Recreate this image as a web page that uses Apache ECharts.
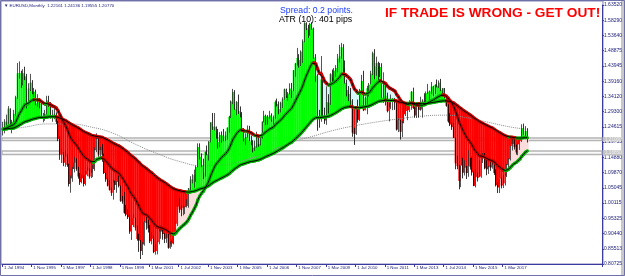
<!DOCTYPE html>
<html><head><meta charset="utf-8">
<script src="https://cdn.jsdelivr.net/npm/echarts@6/dist/echarts.min.js"></script>
<style>html,body{margin:0;padding:0;background:#fff}#c{width:625px;height:276px}</style>
</head><body><div id="c"></div>
<script>
// Monthly EURUSD bars, Jul 1994 .. Apr 2018 (one row per year)
const opens = [
1.222,1.238,1.262,1.262,1.304,1.254,
1.262,1.287,1.340,1.417,1.417,1.387,1.417,1.407,1.321,1.368,1.387,1.358,
1.358,1.321,1.330,1.321,1.278,1.278,1.287,1.330,1.321,1.278,1.278,1.287,
1.262,1.207,1.157,1.157,1.131,1.150,1.124,1.063,1.081,1.111,1.131,1.111,
1.087,1.069,1.081,1.063,1.093,1.105,1.087,1.099,1.111,1.171,1.207,1.157,
1.171,1.157,1.098,1.078,1.058,1.044,1.035,1.068,1.060,1.070,1.057,1.009,
1.007,0.971,0.965,0.957,0.911,0.932,0.954,0.924,0.887,0.882,0.849,0.870,
0.942,0.938,0.921,0.880,0.888,0.846,0.849,0.877,0.911,0.911,0.903,0.888,
0.890,0.859,0.870,0.873,0.901,0.936,0.991,0.982,0.980,0.987,0.989,0.993,
1.049,1.077,1.078,1.091,1.117,1.181,1.150,1.123,1.099,1.165,1.159,1.199,
1.260,1.246,1.246,1.230,1.197,1.220,1.218,1.202,1.218,1.243,1.278,1.327,
1.357,1.303,1.325,1.296,1.287,1.230,1.209,1.213,1.233,1.202,1.198,1.179,
1.184,1.216,1.191,1.212,1.262,1.281,1.279,1.277,1.282,1.268,1.276,1.325,
1.319,1.302,1.323,1.334,1.366,1.345,1.352,1.368,1.362,1.427,1.448,1.466,
1.459,1.486,1.519,1.578,1.560,1.555,1.575,1.560,1.467,1.409,1.273,1.270,
1.397,1.280,1.266,1.325,1.323,1.414,1.403,1.425,1.434,1.464,1.471,1.500,
1.433,1.386,1.363,1.351,1.330,1.227,1.223,1.305,1.268,1.363,1.392,1.299,
1.338,1.369,1.380,1.416,1.481,1.439,1.450,1.439,1.437,1.339,1.386,1.345,
1.296,1.308,1.332,1.334,1.324,1.237,1.267,1.230,1.258,1.286,1.297,1.299,
1.320,1.358,1.306,1.282,1.317,1.300,1.301,1.330,1.322,1.353,1.358,1.359,
1.375,1.349,1.380,1.377,1.387,1.363,1.369,1.339,1.313,1.263,1.253,1.245,
1.210,1.129,1.120,1.073,1.122,1.099,1.115,1.098,1.121,1.118,1.100,1.057,
1.086,1.083,1.087,1.138,1.145,1.113,1.110,1.117,1.116,1.124,1.098,1.059,
1.052,1.080,1.058,1.065,1.090,1.124,1.142,1.184,1.191,1.181,1.164,1.190,
1.201,1.241,1.219,1.22161];
const highs = [
1.262,1.270,1.285,1.312,1.305,1.268,
1.300,1.345,1.450,1.455,1.425,1.430,1.438,1.415,1.385,1.415,1.395,1.370,
1.365,1.350,1.338,1.325,1.290,1.300,1.345,1.345,1.325,1.300,1.315,1.292,
1.265,1.215,1.175,1.165,1.170,1.158,1.128,1.090,1.118,1.150,1.145,1.118,
1.098,1.095,1.090,1.105,1.118,1.112,1.110,1.125,1.180,1.225,1.210,1.182,
1.191,1.160,1.100,1.083,1.075,1.052,1.075,1.074,1.072,1.090,1.058,1.025,
1.038,0.996,0.983,0.965,0.932,0.966,0.955,0.930,0.904,0.884,0.877,0.945,
0.960,0.949,0.932,0.909,0.898,0.869,0.881,0.929,0.930,0.922,0.906,0.904,
0.904,0.879,0.886,0.903,0.939,0.995,1.019,0.994,0.995,0.991,1.014,1.050,
1.088,1.094,1.109,1.122,1.193,1.193,1.161,1.144,1.167,1.186,1.200,1.260,
1.290,1.290,1.247,1.239,1.229,1.231,1.239,1.231,1.244,1.281,1.330,1.367,
1.363,1.328,1.349,1.311,1.293,1.242,1.225,1.250,1.249,1.218,1.203,1.202,
1.230,1.213,1.220,1.263,1.297,1.285,1.283,1.297,1.289,1.282,1.330,1.336,
1.327,1.326,1.340,1.368,1.368,1.357,1.385,1.386,1.427,1.450,1.498,1.478,
1.490,1.525,1.580,1.580,1.572,1.578,1.580,1.563,1.478,1.414,1.300,1.472,
1.407,1.307,1.375,1.350,1.417,1.429,1.434,1.443,1.479,1.508,1.514,1.510,
1.458,1.397,1.376,1.370,1.334,1.243,1.312,1.333,1.367,1.412,1.425,1.343,
1.377,1.386,1.425,1.486,1.494,1.470,1.454,1.450,1.449,1.420,1.385,1.355,
1.322,1.349,1.338,1.338,1.327,1.272,1.268,1.264,1.317,1.314,1.304,1.331,
1.360,1.371,1.309,1.324,1.324,1.342,1.334,1.353,1.359,1.383,1.362,1.389,
1.377,1.382,1.397,1.394,1.399,1.370,1.370,1.344,1.318,1.289,1.260,1.258,
1.212,1.153,1.124,1.122,1.147,1.139,1.121,1.171,1.146,1.150,1.106,1.110,
1.100,1.139,1.139,1.162,1.162,1.143,1.121,1.137,1.133,1.126,1.110,1.068,
1.080,1.083,1.091,1.096,1.127,1.145,1.185,1.207,1.209,1.189,1.196,1.203,
1.254,1.256,1.248,1.24136];
const lows = [
1.218,1.225,1.250,1.255,1.238,1.225,
1.250,1.280,1.335,1.400,1.370,1.378,1.395,1.305,1.315,1.360,1.350,1.340,
1.315,1.310,1.305,1.272,1.260,1.265,1.285,1.310,1.272,1.262,1.270,1.255,
1.200,1.140,1.130,1.120,1.118,1.118,1.055,1.035,1.070,1.100,1.105,1.080,
1.060,1.065,1.055,1.058,1.088,1.080,1.082,1.085,1.105,1.165,1.150,1.150,
1.134,1.095,1.070,1.055,1.042,1.025,1.013,1.044,1.035,1.052,1.006,1.000,
0.968,0.960,0.951,0.904,0.884,0.925,0.914,0.882,0.846,0.823,0.836,0.866,
0.917,0.908,0.874,0.870,0.842,0.837,0.838,0.870,0.888,0.885,0.874,0.875,
0.856,0.856,0.862,0.870,0.898,0.929,0.971,0.960,0.963,0.967,0.988,0.987,
1.036,1.065,1.051,1.070,1.116,1.141,1.117,1.079,1.087,1.155,1.138,1.196,
1.236,1.234,1.208,1.176,1.180,1.195,1.200,1.200,1.205,1.227,1.274,1.318,
1.300,1.283,1.287,1.276,1.229,1.199,1.187,1.211,1.200,1.187,1.164,1.169,
1.179,1.182,1.186,1.208,1.260,1.251,1.253,1.271,1.262,1.252,1.271,1.311,
1.286,1.292,1.306,1.332,1.338,1.329,1.349,1.338,1.360,1.406,1.442,1.435,
1.440,1.450,1.516,1.555,1.530,1.537,1.556,1.463,1.390,1.233,1.243,1.262,
1.275,1.255,1.252,1.288,1.316,1.380,1.385,1.405,1.420,1.452,1.463,1.421,
1.384,1.343,1.328,1.316,1.214,1.188,1.220,1.259,1.264,1.361,1.296,1.298,
1.286,1.343,1.382,1.411,1.398,1.409,1.394,1.405,1.337,1.322,1.314,1.292,
1.263,1.302,1.299,1.300,1.234,1.229,1.205,1.213,1.257,1.280,1.267,1.293,
1.300,1.303,1.275,1.274,1.275,1.297,1.275,1.318,1.313,1.350,1.330,1.351,
1.345,1.351,1.372,1.370,1.360,1.350,1.337,1.310,1.259,1.248,1.236,1.210,
1.110,1.110,1.046,1.053,1.081,1.090,1.079,1.086,1.109,1.090,1.056,1.052,
1.071,1.085,1.083,1.130,1.110,1.091,1.095,1.105,1.112,1.092,1.055,1.034,
1.034,1.049,1.050,1.058,1.085,1.112,1.138,1.170,1.173,1.157,1.155,1.172,
1.197,1.219,1.216,1.19555];
const closes = [
1.238,1.262,1.262,1.304,1.254,1.262,
1.287,1.340,1.417,1.417,1.387,1.417,1.407,1.321,1.368,1.387,1.358,1.358,
1.321,1.330,1.321,1.278,1.278,1.287,1.330,1.321,1.278,1.278,1.287,1.262,
1.207,1.157,1.157,1.131,1.150,1.124,1.063,1.081,1.111,1.131,1.111,1.087,
1.069,1.081,1.063,1.093,1.105,1.087,1.099,1.111,1.171,1.207,1.157,1.171,
1.157,1.098,1.078,1.058,1.044,1.035,1.068,1.060,1.070,1.057,1.009,1.007,
0.971,0.965,0.957,0.911,0.932,0.954,0.924,0.887,0.882,0.849,0.870,0.942,
0.938,0.921,0.880,0.888,0.846,0.849,0.877,0.911,0.911,0.903,0.888,0.890,
0.859,0.870,0.873,0.901,0.936,0.991,0.982,0.980,0.987,0.989,0.993,1.049,
1.077,1.078,1.091,1.117,1.181,1.150,1.123,1.099,1.165,1.159,1.199,1.260,
1.246,1.246,1.230,1.197,1.220,1.218,1.202,1.218,1.243,1.278,1.327,1.357,
1.303,1.325,1.296,1.287,1.230,1.209,1.213,1.233,1.202,1.198,1.179,1.184,
1.216,1.191,1.212,1.262,1.281,1.279,1.277,1.282,1.268,1.276,1.325,1.319,
1.302,1.323,1.334,1.366,1.345,1.352,1.368,1.362,1.427,1.448,1.466,1.459,
1.486,1.519,1.578,1.560,1.555,1.575,1.560,1.467,1.409,1.273,1.270,1.397,
1.280,1.266,1.325,1.323,1.414,1.403,1.425,1.434,1.464,1.471,1.500,1.433,
1.386,1.363,1.351,1.330,1.227,1.223,1.305,1.268,1.363,1.392,1.299,1.338,
1.369,1.380,1.416,1.481,1.439,1.450,1.439,1.437,1.339,1.386,1.345,1.296,
1.308,1.332,1.334,1.324,1.237,1.267,1.230,1.258,1.286,1.297,1.299,1.320,
1.358,1.306,1.282,1.317,1.300,1.301,1.330,1.322,1.353,1.358,1.359,1.375,
1.349,1.380,1.377,1.387,1.363,1.369,1.339,1.313,1.263,1.253,1.245,1.210,
1.129,1.120,1.073,1.122,1.099,1.115,1.098,1.121,1.118,1.100,1.057,1.086,
1.083,1.087,1.138,1.145,1.113,1.110,1.117,1.116,1.124,1.098,1.059,1.052,
1.080,1.058,1.065,1.090,1.124,1.142,1.184,1.191,1.181,1.164,1.190,1.201,
1.241,1.219,1.232,1.2077];
// fast average line (black core, coloured edge), one value per bar
const fastMA = [
1.238,1.240,1.242,1.248,1.248,1.250,
1.253,1.261,1.275,1.288,1.297,1.308,1.317,1.317,1.322,1.328,1.331,1.333,
1.332,1.332,1.331,1.326,1.322,1.318,1.320,1.320,1.316,1.312,1.310,1.306,
1.297,1.284,1.273,1.260,1.250,1.238,1.222,1.209,1.201,1.194,1.187,1.178,
1.168,1.160,1.151,1.146,1.142,1.137,1.134,1.132,1.135,1.142,1.143,1.146,
1.147,1.142,1.136,1.129,1.122,1.114,1.110,1.105,1.102,1.098,1.090,1.082,
1.072,1.062,1.053,1.040,1.030,1.023,1.014,1.003,0.992,0.979,0.969,0.966,
0.964,0.960,0.953,0.947,0.938,0.930,0.925,0.924,0.922,0.921,0.918,0.915,
0.910,0.906,0.903,0.903,0.906,0.914,0.920,0.926,0.931,0.936,0.942,0.951,
0.963,0.973,0.984,0.996,1.013,1.025,1.034,1.040,1.051,1.061,1.074,1.091,
1.105,1.118,1.128,1.134,1.142,1.149,1.154,1.160,1.167,1.177,1.191,1.206,
1.215,1.225,1.231,1.236,1.236,1.233,1.231,1.232,1.229,1.226,1.222,1.218,
1.218,1.216,1.215,1.220,1.225,1.230,1.234,1.239,1.241,1.245,1.252,1.258,
1.262,1.268,1.274,1.282,1.288,1.294,1.300,1.306,1.317,1.329,1.341,1.352,
1.364,1.378,1.396,1.411,1.424,1.438,1.449,1.451,1.447,1.431,1.417,1.415,
1.402,1.390,1.384,1.379,1.382,1.384,1.388,1.392,1.398,1.405,1.414,1.415,
1.413,1.408,1.403,1.396,1.381,1.367,1.361,1.353,1.353,1.357,1.352,1.350,
1.352,1.355,1.360,1.371,1.377,1.384,1.389,1.393,1.388,1.388,1.384,1.376,
1.370,1.367,1.364,1.360,1.349,1.341,1.331,1.325,1.321,1.319,1.317,1.317,
1.321,1.320,1.316,1.316,1.315,1.314,1.315,1.316,1.319,1.323,1.326,1.330,
1.332,1.336,1.340,1.344,1.346,1.348,1.347,1.344,1.337,1.329,1.322,1.311,
1.295,1.279,1.260,1.248,1.234,1.223,1.212,1.204,1.196,1.187,1.175,1.167,
1.160,1.153,1.152,1.151,1.148,1.144,1.142,1.139,1.138,1.134,1.128,1.121,
1.117,1.112,1.107,1.106,1.107,1.111,1.117,1.124,1.129,1.132,1.138,1.143,
1.152,1.158,1.165,1.169];
// slow average line, one value per bar
const slowMA = [
1.238,1.239,1.239,1.241,1.241,1.241,
1.242,1.245,1.248,1.252,1.255,1.259,1.262,1.263,1.266,1.268,1.270,1.272,
1.273,1.275,1.276,1.276,1.276,1.276,1.277,1.278,1.278,1.278,1.278,1.278,
1.276,1.274,1.271,1.268,1.266,1.262,1.258,1.254,1.251,1.248,1.245,1.242,
1.238,1.234,1.230,1.227,1.225,1.222,1.219,1.217,1.216,1.215,1.214,1.213,
1.212,1.209,1.206,1.203,1.200,1.196,1.193,1.190,1.187,1.185,1.181,1.177,
1.172,1.168,1.163,1.157,1.152,1.148,1.143,1.137,1.132,1.125,1.120,1.116,
1.112,1.107,1.102,1.098,1.092,1.087,1.082,1.078,1.074,1.071,1.067,1.063,
1.058,1.054,1.050,1.047,1.044,1.043,1.042,1.040,1.039,1.038,1.037,1.037,
1.038,1.039,1.040,1.042,1.045,1.047,1.049,1.050,1.053,1.055,1.058,1.063,
1.067,1.071,1.074,1.077,1.080,1.083,1.086,1.089,1.092,1.096,1.102,1.107,
1.112,1.116,1.120,1.124,1.126,1.128,1.130,1.132,1.134,1.135,1.136,1.137,
1.139,1.140,1.142,1.145,1.148,1.151,1.153,1.156,1.159,1.161,1.165,1.168,
1.171,1.175,1.178,1.182,1.186,1.190,1.194,1.197,1.203,1.208,1.214,1.219,
1.225,1.232,1.239,1.246,1.253,1.260,1.267,1.272,1.275,1.275,1.275,1.277,
1.277,1.277,1.278,1.279,1.282,1.285,1.288,1.291,1.295,1.299,1.303,1.306,
1.308,1.309,1.310,1.311,1.309,1.307,1.307,1.306,1.307,1.309,1.309,1.310,
1.311,1.312,1.315,1.318,1.321,1.324,1.327,1.329,1.329,1.331,1.331,1.330,
1.330,1.330,1.330,1.330,1.328,1.326,1.324,1.323,1.322,1.321,1.321,1.321,
1.322,1.321,1.320,1.320,1.320,1.319,1.320,1.320,1.320,1.321,1.322,1.323,
1.324,1.325,1.326,1.328,1.328,1.329,1.329,1.329,1.328,1.326,1.324,1.322,
1.317,1.313,1.308,1.304,1.299,1.295,1.291,1.287,1.283,1.279,1.274,1.270,
1.266,1.262,1.259,1.256,1.253,1.250,1.247,1.244,1.242,1.238,1.234,1.230,
1.227,1.223,1.220,1.217,1.215,1.213,1.213,1.212,1.211,1.210,1.210,1.210,
1.210,1.211,1.211,1.211];
// long dotted average, read at sparse months [monthIndex, price]
const longMA = [[0,1.235],[12,1.245],[24,1.255],[36,1.255],[48,1.245],[60,1.225],[72,1.19],[84,1.16],[96,1.135],[108,1.122],[120,1.125],[132,1.14],[144,1.165],[156,1.195],[168,1.215],[180,1.235],[192,1.25],[204,1.262],[216,1.272],[228,1.28],[240,1.283],[252,1.275],[264,1.26],[276,1.245],[285,1.238]];
const xTickLabels = ['1 Jul 1994','1 Nov 1995','1 Mar 1997','1 Jul 1998','1 Nov 1999','1 Mar 2001','1 Jul 2002','1 Nov 2003','1 Mar 2005','1 Jul 2006','1 Nov 2007','1 Mar 2009','1 Jul 2010','1 Nov 2011','1 Mar 2013','1 Jul 2014','1 Nov 2015','1 Mar 2017'];
const yTickLabels = ['1.63520','1.58290','1.53640','1.48875','1.43945','1.39160','1.34120','1.29300','1.24615','1.19755','1.14880','1.09870','1.05045','1.00115','0.95325','0.90440','0.85513','0.80725'];
const bands = [[1.2100,1.2020],[1.1685,1.1572]];
const SLOTS = 326, LABEL_EVERY = 16;

const categories = [];
for (let i=0;i<SLOTS;i++){ const k=i/LABEL_EVERY; categories.push(Number.isInteger(k) && k<xTickLabels.length ? xTickLabels[k] : ''); }

const candleData = closes.map((c,i)=>[opens[i],c,lows[i],highs[i]]);
const fillData = closes.map((c,i)=>[i,c,fastMA[i],slowMA[i]]);
const segData = a => a.slice(0,-1).map((v,i)=>[i,v,a[i+1]]);

const GREEN='#00ff00', RED='#ff0000', PALE_UP='#d6f7f7', PALE_DN='#fbdcdc';
const AXIS='#3a3aa0', TXT='#22227a';

function renderFill(params, api){
  const i=api.value(0), c=api.value(1), f=api.value(2), s=api.value(3);
  const w=api.size([1,0])[0];
  const pc=api.coord([i,c]), pf=api.coord([i,f]), ps=api.coord([i,s]);
  const x=pc[0]-w/2;
  return {type:'group',children:[
    {type:'rect',shape:{x:x,y:Math.min(pc[1],pf[1]),width:w+0.3,height:Math.abs(pc[1]-pf[1])},style:{fill:f>=s?PALE_UP:PALE_DN}},
    {type:'rect',shape:{x:x,y:Math.min(pc[1],ps[1]),width:w+0.3,height:Math.abs(pc[1]-ps[1])},style:{fill:c>=s?GREEN:RED}}
  ]};
}
function renderSeg(params, api){
  const i=api.value(0), a=api.value(1), b=api.value(2);
  const p1=api.coord([i,a]), p2=api.coord([i+1,b]);
  return {type:'line',shape:{x1:p1[0],y1:p1[1],x2:p2[0],y2:p2[1]},style:{stroke:b>=a?'#00b400':'#d00000',lineWidth:3.2,lineCap:'round'}};
}
const chart = echarts.init(document.getElementById('c'),null,{renderer:'canvas'});
const lineBlack = d => ({type:'line',data:d,symbol:'none',z:6,silent:true,lineStyle:{color:'#000',width:1},animation:false});
chart.setOption({
  animation:false,
  backgroundColor:'#fff',
  grid:{left:2,right:22,top:5,bottom:12},
  xAxis:{type:'category',data:categories,boundaryGap:true,
    axisLine:{show:true,lineStyle:{color:AXIS,width:1}},
    axisTick:{show:true,length:3,interval:(i,v)=>v!=='',lineStyle:{color:AXIS}},
    axisLabel:{show:true,interval:(i,v)=>v!=='',align:'left',margin:2,fontSize:4.4,fontFamily:'Liberation Sans',color:TXT,padding:[0,0,0,1]},
    splitLine:{show:false}},
  yAxis:[
    {type:'value',min:0.80725,max:1.6352,show:false,splitLine:{show:false}},
    {type:'category',data:yTickLabels.slice().reverse(),boundaryGap:false,position:'right',
      axisLine:{show:true,lineStyle:{color:AXIS}},axisTick:{show:true,length:2,lineStyle:{color:AXIS}},
      axisLabel:{fontSize:5,fontFamily:'Liberation Sans',color:TXT,margin:2},splitLine:{show:false}}
  ],
  series:[
    {type:'custom',renderItem:renderFill,data:fillData,z:1,silent:true,clip:true},
    {type:'line',data:longMA,smooth:true,symbol:'none',z:3,silent:true,lineStyle:{color:'#8c8c8c',width:1,type:'dotted'},
      markArea:{silent:true,itemStyle:{color:'rgba(240,240,240,0.35)',borderColor:'#b4b4b4',borderWidth:1.4},
        data:bands.map(b=>[{yAxis:b[0]},{yAxis:b[1]}])}},
    {type:'candlestick',data:candleData,z:4,silent:true,barWidth:1,
      itemStyle:{color:'#3a3a3a',color0:'#000',borderColor:'#2a2a2a',borderColor0:'#000',borderWidth:0.8}},
    {type:'custom',renderItem:renderSeg,data:segData(slowMA),z:5,silent:true},
    {type:'custom',renderItem:renderSeg,data:segData(fastMA),z:5,silent:true},
    lineBlack(slowMA),lineBlack(fastMA)
  ],
  graphic:{elements:[
    {id:'frame',type:'rect',shape:{x:1,y:1,width:602,height:263},style:{fill:'none',stroke:'#8080b8',lineWidth:1},silent:true,z:0},
    {id:'strip',type:'rect',shape:{x:621,y:0,width:4,height:276},style:{fill:'#c8c8c8'},silent:true},
    {id:'outer',type:'rect',shape:{x:0.5,y:0.5,width:624,height:275},style:{fill:'none',stroke:'#7070a8',lineWidth:1},silent:true},
    {id:'hdr',type:'text',x:4,y:6,style:{text:'▼ EURUSD,Monthly  1.22161 1.24136 1.19555 1.20770',font:'4.4px "Liberation Sans"',fill:TXT,verticalAlign:'middle'},silent:true,z:10},
    {id:'spread',type:'text',x:280,y:10.5,style:{text:'Spread: 0.2 points.',font:'8.7px "Liberation Sans"',fill:'#1a3cff',verticalAlign:'middle'},silent:true,z:10},
    {id:'atr',type:'text',x:279,y:19.8,style:{text:'ATR (10): 401 pips',font:'8.8px "Liberation Sans"',fill:'#000',verticalAlign:'middle'},silent:true,z:10},
    {id:'title',type:'text',x:385,y:13,style:{text:'IF TRADE IS WRONG - GET OUT!',font:'bold 13.7px "Liberation Sans"',fill:'#ff0000',verticalAlign:'middle'},silent:true,z:10}
  ]}
});
// grey price tags on the price scale for the two bands, placed through the axis scale
const tagEls = [];
bands.forEach((b,k)=>{
  const y1 = chart.convertToPixel({yAxisIndex:0}, b[0]);
  const y2 = chart.convertToPixel({yAxisIndex:0}, b[1]);
  tagEls.push({id:'tagr'+k,type:'rect',silent:true,z:11,shape:{x:604,y:y1-1,width:17,height:(y2-y1)+2},style:{fill:'#c4c4c4'}});
  tagEls.push({id:'tagt'+k,type:'text',silent:true,z:12,x:605,y:(y1+y2)/2,style:{text:b[0].toFixed(5),font:'4.6px "Liberation Sans"',fill:'#f2f2f2',verticalAlign:'middle'}});
});
chart.setOption({graphic:{elements:tagEls}});
</script></body></html>
